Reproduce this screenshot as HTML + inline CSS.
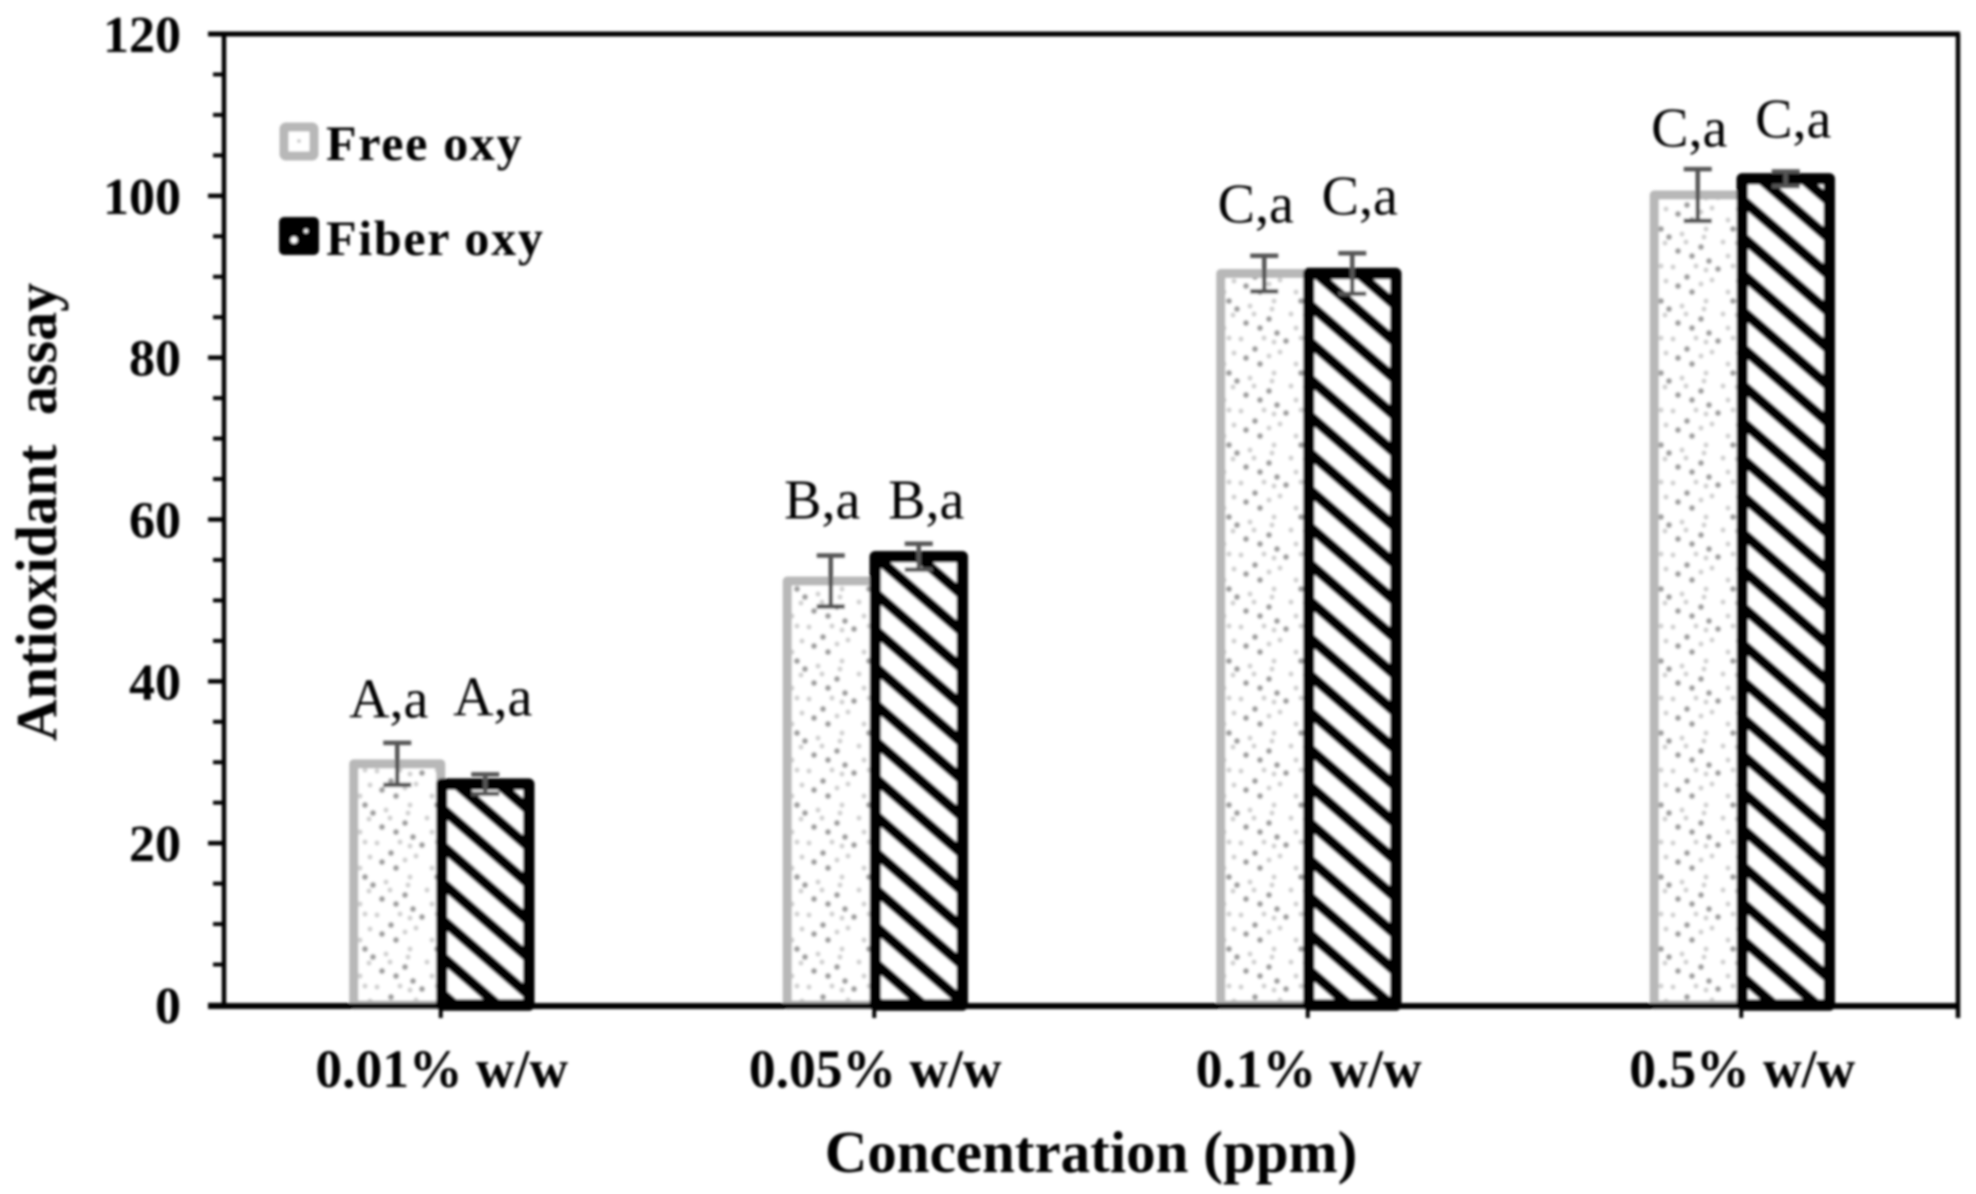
<!DOCTYPE html>
<html lang="en">
<head>
<meta charset="utf-8">
<title>Antioxidant assay chart</title>
<style>
html,body{margin:0;padding:0;background:#fff;width:1976px;height:1194px;overflow:hidden}
svg{display:block}
text{font-family:"Liberation Serif","DejaVu Serif",serif;fill:#000}
</style>
</head>
<body>
<svg id="chart" xmlns="http://www.w3.org/2000/svg" width="1976" height="1194" viewBox="0 0 1976 1194">
  <defs>
    <filter id="soft" x="-2%" y="-2%" width="104%" height="104%"><feGaussianBlur stdDeviation="1.2"/></filter>
    <pattern id="dots" patternUnits="userSpaceOnUse" width="72" height="72" patternTransform="translate(350,800)">
      <rect width="72" height="72" fill="#fff"/>
      <g fill="#a0a0a0">
        <circle cx="15" cy="5" r="3"/><circle cx="23" cy="13" r="3"/>
        <circle cx="55" cy="23" r="3"/><circle cx="32" cy="27" r="3"/>
        <circle cx="46" cy="32" r="3"/><circle cx="63" cy="37" r="3"/>
        <circle cx="0" cy="45" r="3"/><circle cx="72" cy="45" r="3"/><circle cx="41" cy="53" r="3"/>
        <circle cx="32" cy="62" r="3"/><circle cx="46" cy="68" r="3"/>
      </g>
      <g fill="#d2d2d2">
        <circle cx="36" cy="10" r="2.6"/><circle cx="60" cy="5" r="2.6"/>
        <circle cx="40" cy="18" r="2.6"/><circle cx="58" cy="13" r="2.6"/>
        <circle cx="5" cy="18" r="2.6"/><circle cx="19" cy="19" r="2.6"/>
        <circle cx="10" cy="32" r="2.6"/><circle cx="15" cy="42" r="2.6"/>
        <circle cx="27" cy="43" r="2.6"/><circle cx="50" cy="42" r="2.6"/>
        <circle cx="60" cy="46" r="2.6"/><circle cx="20" cy="57" r="2.6"/>
        <circle cx="55" cy="60" r="2.6"/><circle cx="10" cy="68" r="2.6"/>
        <circle cx="66" cy="56" r="2.6"/>
      </g>
    </pattern>
    <pattern id="hatch" patternUnits="userSpaceOnUse" width="27.925" height="27.925" patternTransform="rotate(41) translate(0,7.85)">
      <rect width="27.925" height="27.925" fill="#fff"/>
      <rect y="0" width="27.925" height="10.5" fill="#000"/>
    </pattern>
  </defs>
  <g id="root" filter="url(#soft)"></g>
</svg>
<script>
const categories = ['0.01% w/w', '0.05% w/w', '0.1% w/w', '0.5% w/w'];
const freeOxy = [29.8, 52.4, 90.4, 100.1];
const fiberOxy = [27.3, 55.4, 90.4, 102.1];
const freeErr = [2.6, 3.15, 2.2, 3.2];
const fiberErr = [1.2, 1.6, 2.5, 0.9];
const freeLabels = ['A,a', 'B,a', 'C,a', 'C,a'];
const fiberLabels = ['A,a', 'B,a', 'C,a', 'C,a'];
const freeLabelLevels = [35.5, 60.1, 96.7, 106.1];
const fiberLabelLevels = [35.8, 60.1, 97.7, 107.2];
const tickValues = [0, 20, 40, 60, 80, 100, 120];
const tickLabels = ['0', '20', '40', '60', '80', '100', '120'];
const minorTickValues = [5, 10, 15, 25, 30, 35, 45, 50, 55, 65, 70, 75, 85, 90, 95, 105, 110, 115];

const plotLeft = 224, plotRight = 1958, plotTop = 34, plotBottom = 1005, yMax = 120;
const yScale = v => plotBottom - (v / yMax) * (plotBottom - plotTop);
const bandWidth = (plotRight - plotLeft) / categories.length;
const xCenter = i => plotLeft + (i + 0.5) * bandWidth;
const barWidth = 87;

const root = document.getElementById('root');
const NS = 'http://www.w3.org/2000/svg';
function make(tag, props, parent) {
  const el = document.createElementNS(NS, tag);
  for (const k in props) el.setAttribute(k, props[k]);
  (parent || root).appendChild(el);
  return el;
}

// bars
function drawBar(i, value, isFiber) {
  const x = isFiber ? xCenter(i) + 1 : xCenter(i) - barWidth;
  const y = yScale(value);
  const el = make('rect', {
    x: x, y: y, width: barWidth, height: plotBottom - y,
    fill: isFiber ? 'url(#hatch)' : 'url(#dots)',
    stroke: isFiber ? '#000' : '#b8b8b8',
    'stroke-width': isFiber ? 11.5 : 9, 'stroke-linejoin': 'round'
  });
  
  
}
categories.forEach((c, i) => drawBar(i, freeOxy[i], false));
categories.forEach((c, i) => drawBar(i, fiberOxy[i], true));

// error bars
function drawError(i, value, err, isFiber) {
  const cx = isFiber ? xCenter(i) + 1 + barWidth / 2 : xCenter(i) - barWidth / 2;
  const g = make('g', { stroke: '#555', 'stroke-width': 4.5, fill: 'none' });
  
  
  const hi = yScale(value + err), lo = yScale(value - err);
  make('line', { x1: cx, x2: cx, y1: hi, y2: lo }, g);
  make('line', { x1: cx - 14, x2: cx + 14, y1: hi, y2: hi }, g);
  make('line', { x1: cx - 14, x2: cx + 14, y1: lo, y2: lo }, g);
}
categories.forEach((c, i) => {
  drawError(i, freeOxy[i], freeErr[i], false);
  drawError(i, fiberOxy[i], fiberErr[i], true);
});

// plot frame
const frame = make('g', { stroke: '#000', fill: 'none' });


make('line', { x1: 208, x2: plotRight + 2, y1: plotTop, y2: plotTop, 'stroke-width': 5 }, frame);
make('line', { x1: plotLeft, x2: plotLeft, y1: plotTop, y2: plotBottom, 'stroke-width': 4.5 }, frame);
make('line', { x1: plotRight, x2: plotRight, y1: plotTop, y2: 1018, 'stroke-width': 4.5 }, frame);
make('line', { x1: 208, x2: plotRight + 2, y1: plotBottom + 1, y2: plotBottom + 1, 'stroke-width': 6 }, frame);

// y axis ticks and labels
tickValues.forEach((v, i) => {
  const t = make('line', { x1: 208, x2: plotLeft, y1: yScale(v), y2: yScale(v), stroke: '#000', 'stroke-width': 4.5 });
  
  
  const l = make('text', { x: 181, y: yScale(v) + 18, 'text-anchor': 'end', 'font-size': 52, 'font-weight': 'bold' });
  l.textContent = tickLabels[i];
  
  
});
minorTickValues.forEach(v => {
  const t = make('line', { x1: 213, x2: plotLeft, y1: yScale(v), y2: yScale(v), stroke: '#000', 'stroke-width': 4 });
  
  
});

// x axis ticks and labels
categories.forEach((c, i) => {
  const t = make('line', { x1: xCenter(i), x2: xCenter(i), y1: plotBottom, y2: 1018, stroke: '#000', 'stroke-width': 4 });
  
  
  const l = make('text', { x: xCenter(i) + 1, y: 1087, 'text-anchor': 'middle', 'font-size': 53.5, 'font-weight': 'bold' });
  l.textContent = c;
  
  
});

// hand-placed significance letters
categories.forEach((c, i) => {
  const a = make('text', { x: xCenter(i) - 52, y: yScale(freeLabelLevels[i]), 'text-anchor': 'middle', 'font-size': 56, fill: '#222' });
  a.textContent = freeLabels[i];
  
  
  const b = make('text', { x: xCenter(i) + 52, y: yScale(fiberLabelLevels[i]), 'text-anchor': 'middle', 'font-size': 56, fill: '#222' });
  b.textContent = fiberLabels[i];
  
  
});

// axis titles
const xTitle = make('text', { x: 1091, y: 1172, 'text-anchor': 'middle', 'font-size': 59, 'font-weight': 'bold' });
xTitle.textContent = 'Concentration (ppm)';


const yTitle = make('text', { transform: 'translate(56,512) rotate(-90)', 'text-anchor': 'middle', 'font-size': 58, 'font-weight': 'bold', 'word-spacing': 15 });
yTitle.textContent = 'Antioxidant assay';



// legend
const legendFree = make('g', {});


make('rect', { x: 284, y: 127, width: 30, height: 29, rx: 2, fill: '#fff', stroke: '#b8b8b8', 'stroke-width': 9, 'stroke-linejoin': 'round' }, legendFree);
make('circle', { cx: 299, cy: 141, r: 2, fill: '#ccc' }, legendFree);
const legendFreeText = make('text', { x: 326, y: 160, 'font-size': 50, 'font-weight': 'bold', 'letter-spacing': 1.7 }, legendFree);
legendFreeText.textContent = 'Free oxy';

const legendFiber = make('g', {});


make('rect', { x: 279, y: 217, width: 40, height: 38, rx: 5, fill: '#000' }, legendFiber);
make('circle', { cx: 294, cy: 240, r: 3.5, fill: '#fff' }, legendFiber);
make('circle', { cx: 306, cy: 231, r: 2, fill: '#fff' }, legendFiber);
const legendFiberText = make('text', { x: 326, y: 255, 'font-size': 50, 'font-weight': 'bold', 'letter-spacing': 1.7 }, legendFiber);
legendFiberText.textContent = 'Fiber oxy';
</script>
</body>
</html>
